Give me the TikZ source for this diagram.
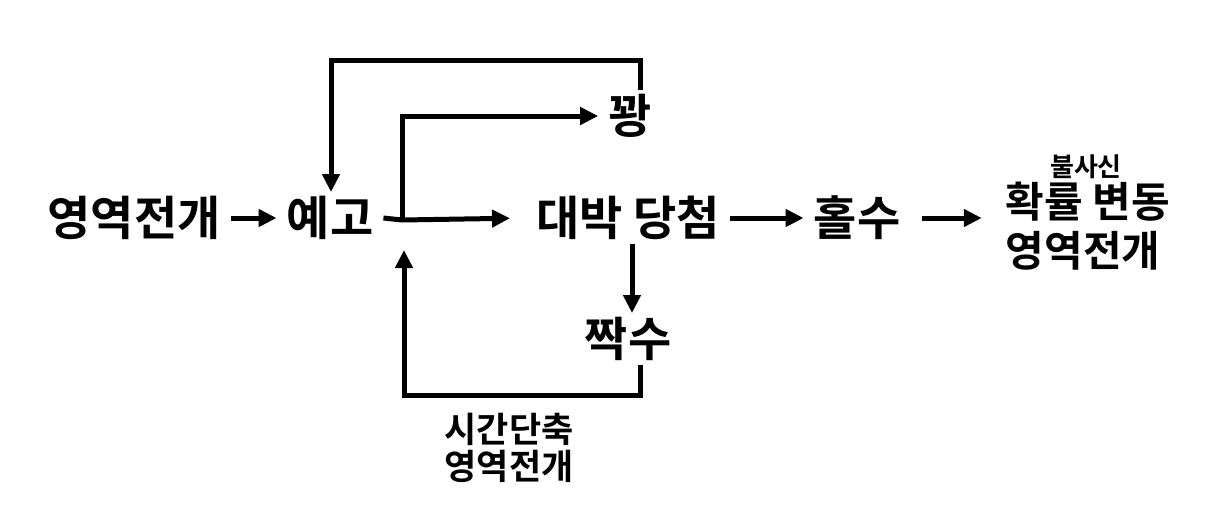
\documentclass[tikz,border=0pt]{standalone}
\usepackage{fontspec}
\setmainfont{Noto Sans CJK KR}[BoldFont={Noto Sans CJK KR Bold}]
\usetikzlibrary{arrows.meta}

\begin{document}
\begin{tikzpicture}[x=1pt, y=-1pt,
    word/.style={font=\fontsize{47}{50}\selectfont\bfseries, inner xsep=10pt, inner ysep=4pt},
    side/.style={font=\fontsize{42}{46}\selectfont\bfseries, inner sep=0pt},
    note/.style={font=\fontsize{35}{38}\selectfont\bfseries, inner sep=0pt},
    tiny/.style={font=\fontsize{26}{28}\selectfont\bfseries, inner sep=0pt},
    line/.style={line width=5pt},
    arr/.style={line width=5pt, -{Triangle[length=18pt, width=17pt]}}]
      \useasboundingbox (0,0) rectangle (1205,528);
      \node[word] (yeok) at (134,218) {영역전개};
      \node[word] (yego) at (330,218) {예고};
      \node[word] (daebak) at (628,218) {대박 당첨};
      \node[word] (holsu) at (857,218) {홀수};
      \node[word] (kkwang) at (630,116) {꽝};
      \node[word] (jjak) at (628,339) {짝수};
      \node[tiny] (bulsa) at (1086,167) {불사신};
      \node[side] (hwak) at (1088,202) {확률 변동};
      \node[side] (yeokb) at (1083,251) {영역전개};
      \node[note] (sigan) at (509,429) {시간단축};
      \node[note] (yeokc) at (509,466) {영역전개};
      \coordinate (split) at (402,220);
      \coordinate (top) at (331,60);
      \coordinate (bot) at (404,395);
      \draw[arr] (yeok) -- (yego);
      \draw[line] (yego.east) -- (split);
      \draw[arr, shorten >=16pt] (split) -- (daebak.west);
      \draw[arr] (split) |- (kkwang.west);
      \draw[arr] ([xshift=10pt]kkwang.north) |- (top) -- (top |- yego.north);
      \draw[arr] ([xshift=4pt]daebak.south) -- ([xshift=4pt]jjak.north);
      \draw[arr, shorten >=30pt] ([xshift=12pt]jjak.south) |- (bot) -- (bot |- split);
      \draw[arr] (daebak) -- (holsu);
      \draw[arr, shorten <=12pt, shorten >=24pt] (holsu.east) -- (holsu.east -| hwak.west);
    \end{tikzpicture}
\end{document}
